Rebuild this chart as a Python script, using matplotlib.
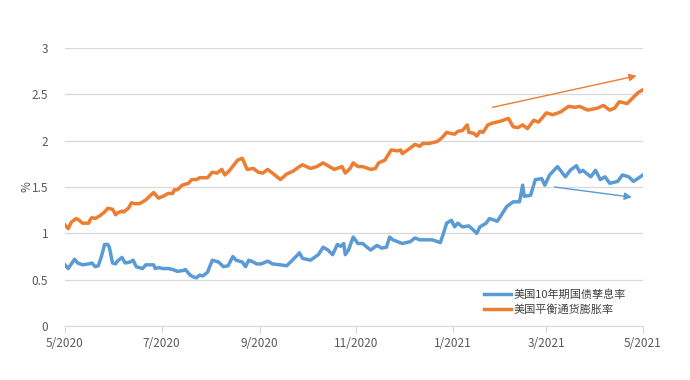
import pandas as pd
import matplotlib.pyplot as plt

plt.rcParams['font.family'] = ['Noto Sans CJK SC', 'DejaVu Sans']

# 美国平衡通货膨胀率 (orange)
be_dates = ['2020-05-01', '2020-05-03', '2020-05-05', '2020-05-08', '2020-05-10', '2020-05-12',
            '2020-05-16', '2020-05-17', '2020-05-18', '2020-05-20', '2020-05-23', '2020-05-26',
            '2020-05-28', '2020-05-31', '2020-06-02', '2020-06-03', '2020-06-06', '2020-06-07',
            '2020-06-10', '2020-06-12', '2020-06-14', '2020-06-17', '2020-06-21', '2020-06-24',
            '2020-06-26', '2020-06-29', '2020-07-02', '2020-07-05', '2020-07-08', '2020-07-09',
            '2020-07-11', '2020-07-14', '2020-07-18', '2020-07-20', '2020-07-23', '2020-07-25',
            '2020-07-30', '2020-08-02', '2020-08-05', '2020-08-08', '2020-08-10', '2020-08-13',
            '2020-08-18', '2020-08-21', '2020-08-24', '2020-08-28', '2020-08-31', '2020-09-03',
            '2020-09-06', '2020-09-09', '2020-09-14', '2020-09-18', '2020-09-22', '2020-09-26',
            '2020-09-28', '2020-10-03', '2020-10-07', '2020-10-11', '2020-10-15', '2020-10-18',
            '2020-10-23', '2020-10-25', '2020-10-28', '2020-10-30', '2020-11-02', '2020-11-05',
            '2020-11-10', '2020-11-13', '2020-11-15', '2020-11-19', '2020-11-23', '2020-11-27',
            '2020-11-29', '2020-11-30', '2020-12-05', '2020-12-08', '2020-12-11', '2020-12-13',
            '2020-12-17', '2020-12-22', '2020-12-25', '2020-12-28', '2020-12-30', '2021-01-02',
            '2021-01-04', '2021-01-07', '2021-01-10', '2021-01-11', '2021-01-14', '2021-01-16',
            '2021-01-18', '2021-01-20', '2021-01-23', '2021-01-26', '2021-01-31', '2021-02-05',
            '2021-02-08', '2021-02-11', '2021-02-14', '2021-02-17', '2021-02-21', '2021-02-24',
            '2021-02-26', '2021-03-01', '2021-03-05', '2021-03-10', '2021-03-15', '2021-03-19',
            '2021-03-22', '2021-03-27', '2021-03-30', '2021-04-02', '2021-04-06', '2021-04-10',
            '2021-04-13', '2021-04-16', '2021-04-21', '2021-04-25', '2021-04-28', '2021-05-01']
be_vals = [1.09, 1.05, 1.12, 1.16, 1.14, 1.11,
           1.11, 1.15, 1.17, 1.16, 1.19, 1.23,
           1.27, 1.26, 1.20, 1.22, 1.24, 1.23,
           1.27, 1.33, 1.32, 1.32, 1.36, 1.41,
           1.44, 1.38, 1.40, 1.43, 1.43, 1.47,
           1.47, 1.52, 1.54, 1.58, 1.58, 1.60,
           1.60, 1.66, 1.65, 1.69, 1.63, 1.68,
           1.79, 1.81, 1.69, 1.70, 1.66, 1.65,
           1.69, 1.65, 1.58, 1.64, 1.67, 1.72,
           1.74, 1.70, 1.72, 1.76, 1.72, 1.69,
           1.72, 1.65, 1.70, 1.76, 1.72, 1.72,
           1.69, 1.70, 1.76, 1.79, 1.90, 1.89,
           1.90, 1.86, 1.92, 1.96, 1.94, 1.97,
           1.97, 1.99, 2.03, 2.09, 2.08, 2.07,
           2.10, 2.11, 2.17, 2.09, 2.08, 2.05,
           2.10, 2.09, 2.17, 2.19, 2.21, 2.24,
           2.15, 2.14, 2.17, 2.13, 2.22, 2.20,
           2.24, 2.30, 2.28, 2.31, 2.37, 2.36,
           2.37, 2.33, 2.34, 2.35, 2.38, 2.33,
           2.35, 2.42, 2.40, 2.47, 2.52, 2.55]

# 美国10年期国债孳息率 (blue)
ty_dates = ['2020-05-01', '2020-05-03', '2020-05-05', '2020-05-07', '2020-05-09', '2020-05-12',
            '2020-05-16', '2020-05-18', '2020-05-20', '2020-05-22', '2020-05-24', '2020-05-26',
            '2020-05-28', '2020-05-29', '2020-05-31', '2020-06-02', '2020-06-03', '2020-06-06',
            '2020-06-08', '2020-06-11', '2020-06-13', '2020-06-15', '2020-06-19', '2020-06-21',
            '2020-06-24', '2020-06-26', '2020-06-27', '2020-06-29', '2020-07-02', '2020-07-05',
            '2020-07-08', '2020-07-11', '2020-07-15', '2020-07-16', '2020-07-19', '2020-07-21',
            '2020-07-23', '2020-07-25', '2020-07-27', '2020-07-30', '2020-08-02', '2020-08-06',
            '2020-08-09', '2020-08-12', '2020-08-15', '2020-08-17', '2020-08-21', '2020-08-23',
            '2020-08-25', '2020-08-28', '2020-08-30', '2020-09-02', '2020-09-06', '2020-09-09',
            '2020-09-14', '2020-09-18', '2020-09-21', '2020-09-25', '2020-09-26', '2020-09-28',
            '2020-10-03', '2020-10-08', '2020-10-11', '2020-10-14', '2020-10-17', '2020-10-20',
            '2020-10-22', '2020-10-24', '2020-10-25', '2020-10-27', '2020-10-30', '2020-11-02',
            '2020-11-05', '2020-11-07', '2020-11-10', '2020-11-14', '2020-11-17', '2020-11-20',
            '2020-11-22', '2020-11-24', '2020-11-27', '2020-11-30', '2020-12-05', '2020-12-08',
            '2020-12-11', '2020-12-16', '2020-12-19', '2020-12-24', '2020-12-26', '2020-12-28',
            '2020-12-31', '2021-01-02', '2021-01-04', '2021-01-07', '2021-01-11', '2021-01-13',
            '2021-01-16', '2021-01-18', '2021-01-22', '2021-01-24', '2021-01-29', '2021-02-04',
            '2021-02-08', '2021-02-12', '2021-02-14', '2021-02-15', '2021-02-19', '2021-02-22',
            '2021-02-26', '2021-02-28', '2021-03-03', '2021-03-08', '2021-03-13', '2021-03-16',
            '2021-03-20', '2021-03-22', '2021-03-24', '2021-03-29', '2021-04-01', '2021-04-04',
            '2021-04-07', '2021-04-10', '2021-04-15', '2021-04-18', '2021-04-22', '2021-04-25',
            '2021-05-01']
ty_vals = [0.66, 0.62, 0.67, 0.72, 0.68, 0.66,
           0.67, 0.68, 0.64, 0.65, 0.75, 0.88,
           0.88, 0.85, 0.68, 0.67, 0.70, 0.74,
           0.68, 0.69, 0.71, 0.64, 0.62, 0.66,
           0.66, 0.66, 0.62, 0.63, 0.62, 0.62,
           0.61, 0.59, 0.60, 0.61, 0.55, 0.53,
           0.52, 0.55, 0.54, 0.58, 0.71, 0.69,
           0.64, 0.65, 0.75, 0.71, 0.69, 0.64,
           0.71, 0.69, 0.67, 0.67, 0.70, 0.67,
           0.66, 0.65, 0.70, 0.77, 0.79, 0.73,
           0.71, 0.77, 0.85, 0.82, 0.77, 0.88,
           0.86, 0.89, 0.77, 0.82, 0.96, 0.89,
           0.89, 0.86, 0.82, 0.87, 0.84, 0.85,
           0.96, 0.93, 0.91, 0.89, 0.91, 0.95,
           0.93, 0.93, 0.93, 0.90, 1.00, 1.11,
           1.14, 1.07, 1.11, 1.07, 1.08, 1.05,
           1.00, 1.07, 1.11, 1.16, 1.13, 1.29,
           1.34, 1.34, 1.52, 1.40, 1.41, 1.58,
           1.59, 1.52, 1.63, 1.72, 1.61, 1.68,
           1.73, 1.66, 1.68, 1.61, 1.68, 1.58,
           1.61, 1.54, 1.56, 1.63, 1.61, 1.56,
           1.63]

tick_dates = ['2020-05-01', '2020-07-01', '2020-09-01', '2020-11-01',
              '2021-01-01', '2021-03-01', '2021-05-01']
tick_labels = ['5/2020', '7/2020', '9/2020', '11/2020', '1/2021', '3/2021', '5/2021']

# trend arrows: (start date, start value, end date, end value)
be_arrow = ('2021-01-26', 2.36, '2021-04-27', 2.70)
ty_arrow = ('2021-03-06', 1.50, '2021-04-24', 1.39)

blue = '#5B9BD5'
orange = '#ED7D31'
grid_c = '#D9D9D9'
txt_c = '#595959'

fig = plt.figure(figsize=(6.9, 3.8), dpi=100)
ax = fig.add_axes([0.0942, 0.1421, 0.8377, 0.7316])

ax.plot(pd.to_datetime(ty_dates), ty_vals, color=blue, lw=2.5, label='美国10年期国债孳息率',
        solid_joinstyle='round')
ax.plot(pd.to_datetime(be_dates), be_vals, color=orange, lw=2.5, label='美国平衡通货膨胀率',
        solid_joinstyle='round')

for (d0, v0, d1, v1), c in [(be_arrow, orange), (ty_arrow, blue)]:
    ax.annotate('', xy=(pd.Timestamp(d1), v1), xytext=(pd.Timestamp(d0), v0),
                arrowprops=dict(arrowstyle='-|>', color=c, lw=1.0, mutation_scale=11,
                                shrinkA=0, shrinkB=0))

ax.set_xlim(pd.Timestamp('2020-05-01'), pd.Timestamp('2021-05-01'))
ax.set_ylim(0, 3)
ax.set_yticks([0, 0.5, 1, 1.5, 2, 2.5, 3])
ax.set_yticklabels(['0', '0.5', '1', '1.5', '2', '2.5', '3'])
ax.set_xticks(pd.to_datetime(tick_dates))
ax.set_xticklabels(tick_labels)

ax.grid(axis='y', color=grid_c, lw=0.9)
ax.set_axisbelow(True)
for s in ['top', 'right', 'left']:
    ax.spines[s].set_visible(False)
ax.spines['bottom'].set_color(grid_c)
ax.tick_params(axis='y', length=0, pad=12, labelsize=8.5, labelcolor=txt_c)
ax.tick_params(axis='x', length=5, color=grid_c, pad=3, labelsize=8.5, labelcolor=txt_c)

ax.set_ylabel('%', color=txt_c, fontsize=8.5)
ax.yaxis.set_label_coords(-0.055, 0.5)

ax.legend(loc='lower left', bbox_to_anchor=(0.695, 0.16), bbox_transform=fig.transFigure,
          frameon=False, fontsize=8, handlelength=2.4, handletextpad=0.3,
          labelspacing=0.35, borderaxespad=0, labelcolor='#404040')

fig.savefig('out.png', dpi=100)
